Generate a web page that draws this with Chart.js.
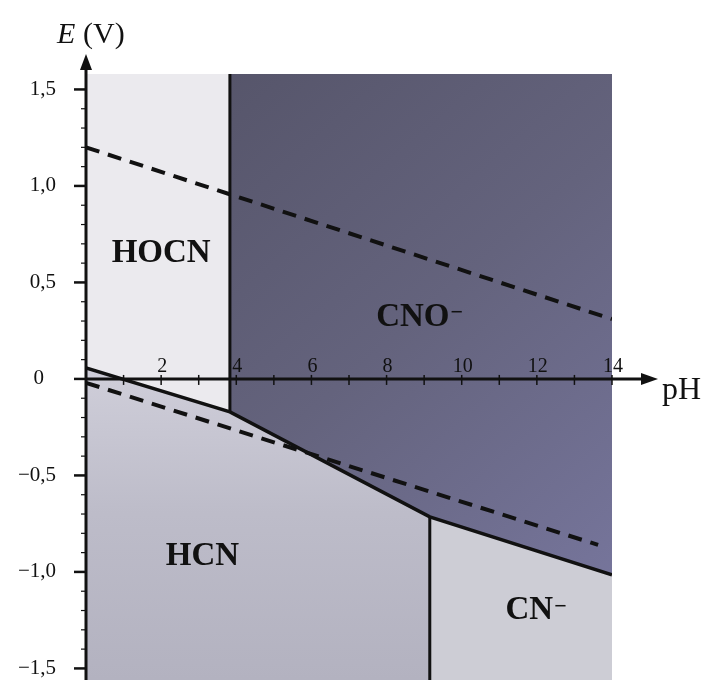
<!DOCTYPE html>
<html>
<head>
<meta charset="utf-8">
<script src="https://cdn.jsdelivr.net/npm/chart.js@4.4.1/dist/chart.umd.min.js"></script>
<style>
  html, body { margin: 0; padding: 0; background: #fff; }
  #wrap { width: 713px; height: 680px; position: relative; }
</style>
</head>
<body>
<div id="wrap"><canvas id="grafico"></canvas></div>
<script>
// frontera de las especies (pH, E en V)
const phFrontera = [0, 3.83, 9.15, 14];
const eFrontera = [0.057, -0.171, -0.715, -1.015];
// lineas del agua (punteadas)
const phO2 = [0, 14];
const eO2 = [1.20, 0.31];
const phH2 = [0, 13.63];
const eH2 = [-0.02, -0.86];
// ejes
const yTicks = [1.5, 1.0, 0.5, 0, -0.5, -1.0, -1.5];
const yTickLabels = ['1,5', '1,0', '0,5', '0', '−0,5', '−1,0', '−1,5'];
const xTicks = [2, 4, 6, 8, 10, 12, 14];
// especies
const especies = ['HOCN', 'CNO', 'HCN', 'CN'];
const especiesCarga = ['', '−', '', '−'];
const especiesPH = [2.0, 8.7, 3.1, 11.8];
const especiesE = [0.65, 0.32, -0.92, -1.2];

const E_MIN = -1.56;
const E_MAX = 1.58;

function puntos(xs, ys) {
  return xs.map((x, i) => ({ x: x, y: ys[i] }));
}

const frontera = puntos(phFrontera, eFrontera);
const SERIF = '"Liberation Serif", "DejaVu Serif", serif';

function gradiente(ctx, stops, diagonal) {
  const chart = ctx.chart;
  const a = chart.chartArea;
  if (!a) return stops[0];
  const g = diagonal
    ? chart.ctx.createLinearGradient(a.left, a.top, a.right, a.bottom)
    : chart.ctx.createLinearGradient(0, a.top + (a.bottom - a.top) * 0.45, 0, a.bottom);
  stops.forEach((c, i) => g.addColorStop(i / (stops.length - 1), c));
  return g;
}

// rellenos debajo de las lineas
const relleno = { borderWidth: 0, pointRadius: 0, tension: 0, order: 2 };
const linea = { borderColor: '#111', pointRadius: 0, fill: false, order: 1 };

const ejes = {
  id: 'ejes',
  afterDraw(chart) {
    const ctx = chart.ctx;
    const xs = chart.scales.x;
    const ys = chart.scales.y;
    const x0 = xs.getPixelForValue(0);
    const y0 = ys.getPixelForValue(0);
    ctx.save();
    ctx.strokeStyle = '#111';
    ctx.fillStyle = '#111';
    ctx.lineWidth = 3;

    // eje E
    ctx.beginPath();
    ctx.moveTo(x0, chart.height);
    ctx.lineTo(x0, 66);
    ctx.stroke();
    ctx.beginPath();
    ctx.moveTo(x0, 54);
    ctx.lineTo(x0 - 6, 70);
    ctx.lineTo(x0 + 6, 70);
    ctx.closePath();
    ctx.fill();

    // eje pH
    ctx.beginPath();
    ctx.moveTo(x0, y0);
    ctx.lineTo(645, y0);
    ctx.stroke();
    ctx.beginPath();
    ctx.moveTo(658, y0);
    ctx.lineTo(641, y0 - 6);
    ctx.lineTo(641, y0 + 6);
    ctx.closePath();
    ctx.fill();

    // marcas E
    for (let k = -15; k <= 15; k++) {
      const py = ys.getPixelForValue(k / 10);
      const largo = k % 5 === 0 ? 12 : 5;
      ctx.lineWidth = k % 5 === 0 ? 2.5 : 1.2;
      ctx.beginPath();
      ctx.moveTo(x0 - largo, py);
      ctx.lineTo(x0, py);
      ctx.stroke();
    }
    // marcas pH
    ctx.lineWidth = 1.5;
    for (let k = 1; k <= 14; k++) {
      const px = xs.getPixelForValue(k);
      ctx.beginPath();
      ctx.moveTo(px, y0 - 4);
      ctx.lineTo(px, y0 + 6);
      ctx.stroke();
    }

    ctx.font = '21px ' + SERIF;
    ctx.textBaseline = 'middle';
    ctx.textAlign = 'right';
    yTicks.forEach((v, i) => {
      const rx = v === 0 ? 44 : 56;
      ctx.fillText(yTickLabels[i], rx, ys.getPixelForValue(v));
    });
    ctx.font = '20px ' + SERIF;
    ctx.textAlign = 'center';
    ctx.textBaseline = 'alphabetic';
    xTicks.forEach(v => {
      ctx.fillText(String(v), xs.getPixelForValue(v) + 1, y0 - 7);
    });

    // titulos de ejes
    ctx.textAlign = 'left';
    ctx.font = 'italic 30px ' + SERIF;
    ctx.fillText('E', 57, 43);
    ctx.font = '30px ' + SERIF;
    ctx.fillText('(V)', 83, 43);
    ctx.font = '32px ' + SERIF;
    ctx.fillText('pH', 662, 399);

    // especies
    especies.forEach((s, i) => {
      const px = xs.getPixelForValue(especiesPH[i]);
      const py = ys.getPixelForValue(especiesE[i]);
      ctx.font = 'bold 33px ' + SERIF;
      ctx.textAlign = 'center';
      ctx.textBaseline = 'middle';
      ctx.fillText(s, px, py);
      if (especiesCarga[i]) {
        const w = ctx.measureText(s).width;
        ctx.font = 'bold 22px ' + SERIF;
        ctx.textAlign = 'left';
        ctx.textBaseline = 'alphabetic';
        ctx.fillText(especiesCarga[i], px + w / 2 + 1, py + 2);
      }
    });
    ctx.restore();
  }
};

new Chart(document.getElementById('grafico'), {
  type: 'line',
  data: {
    datasets: [
      Object.assign({ data: frontera.slice(0, 2), fill: 'end', backgroundColor: '#ebeaee' }, relleno),
      Object.assign({ data: frontera.slice(1, 4), fill: 'end',
        backgroundColor: ctx => gradiente(ctx, ['#525165', '#64637d', '#7a79a2'], true) }, relleno),
      Object.assign({ data: frontera.slice(0, 3), fill: 'start',
        backgroundColor: ctx => gradiente(ctx, ['#d2d1dc', '#bdbcc9', '#b3b2c0'], false) }, relleno),
      Object.assign({ data: frontera.slice(2, 4), fill: 'start', backgroundColor: '#cdcdd5' }, relleno),
      Object.assign({ data: frontera, borderWidth: 3.5 }, linea),
      Object.assign({
        data: [{ x: phFrontera[1], y: E_MAX }, { x: phFrontera[1], y: eFrontera[1] }],
        borderWidth: 3
      }, linea),
      Object.assign({
        data: [{ x: phFrontera[2], y: eFrontera[2] }, { x: phFrontera[2], y: E_MIN }],
        borderWidth: 3
      }, linea),
      Object.assign({ data: puntos(phO2, eO2), borderWidth: 4, borderDash: [14, 9] }, linea),
      Object.assign({ data: puntos(phH2, eH2), borderWidth: 4, borderDash: [14, 9] }, linea)
    ]
  },
  options: {
    responsive: true,
    maintainAspectRatio: false,
    animation: false,
    layout: { padding: { left: 86, right: 101, top: 74, bottom: 0 } },
    scales: {
      x: { type: 'linear', min: 0, max: 14, display: false },
      y: { type: 'linear', min: E_MIN, max: E_MAX, display: false }
    },
    plugins: {
      legend: { display: false },
      tooltip: { enabled: false }
    }
  },
  plugins: [ejes]
});
</script>
</body>
</html>
